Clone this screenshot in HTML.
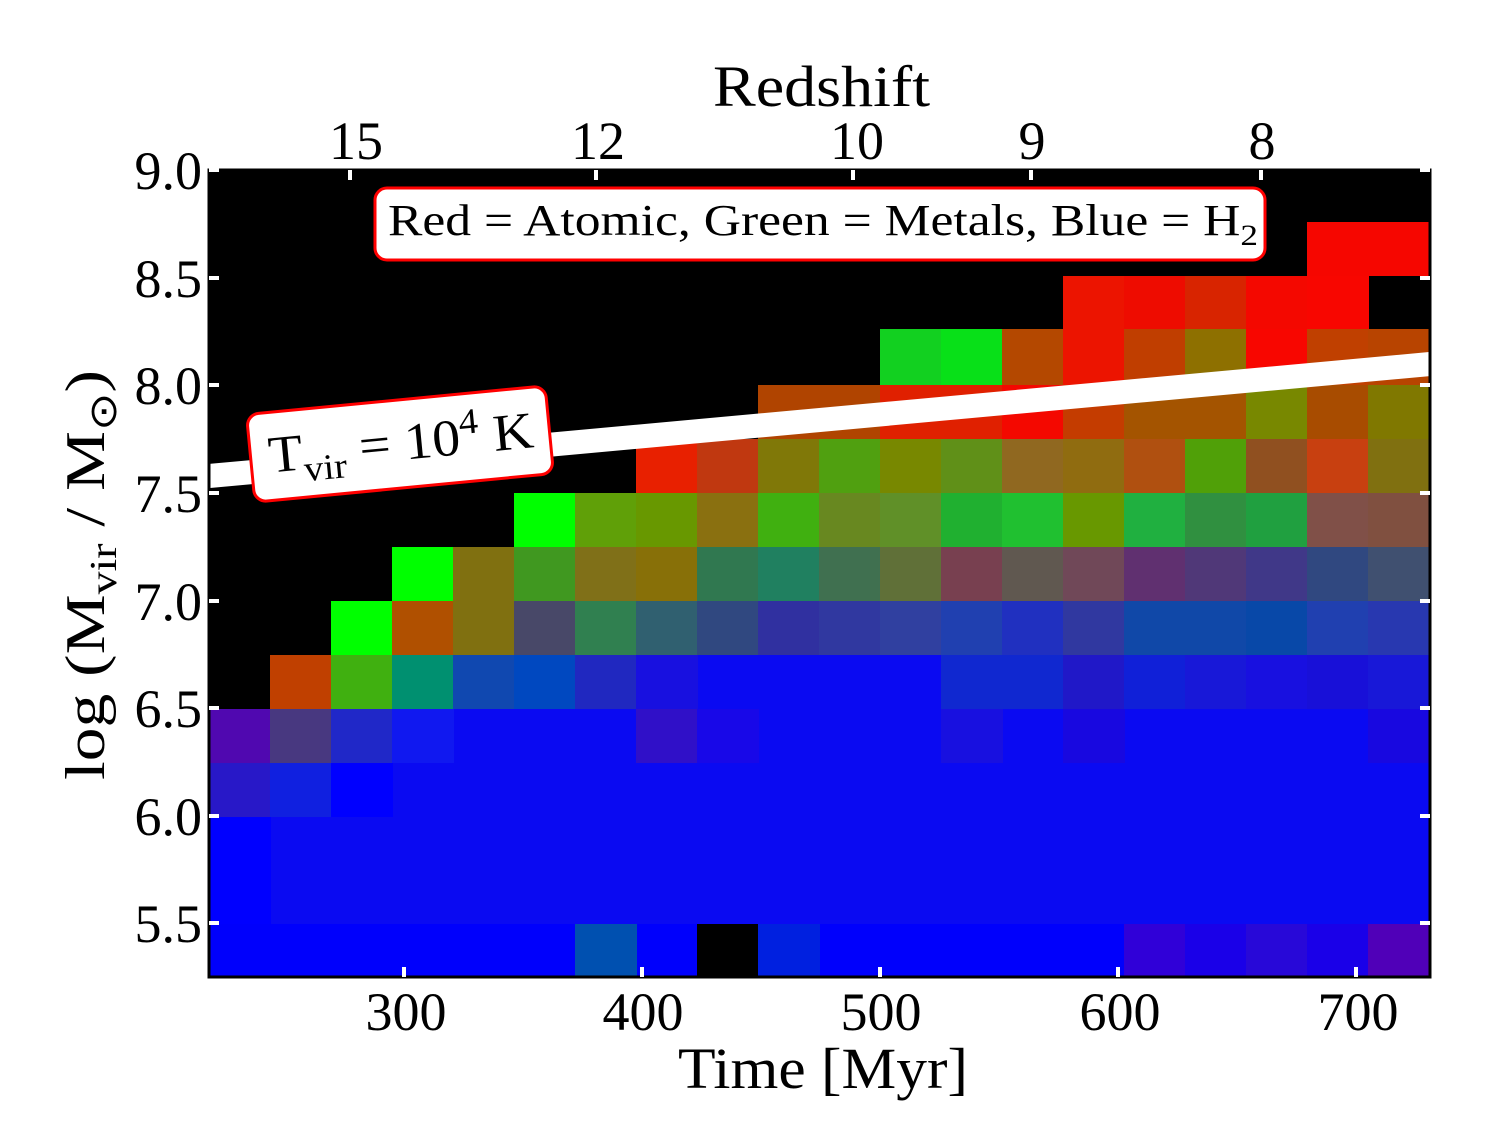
<!DOCTYPE html>
<html><head><meta charset="utf-8"><style>
body{margin:0;background:#fff}
svg{display:block}
text{font-family:"Liberation Serif",serif;fill:#000}
</style></head><body>
<svg width="1494" height="1140" viewBox="0 0 1494 1140" xmlns="http://www.w3.org/2000/svg">
<rect x="209" y="170" width="1221" height="807" fill="#000"/>
<rect x="209" y="655" width="1221" height="322" fill="#0a0af2"/>
<g shape-rendering="crispEdges">
<rect x="1307" y="222" width="123" height="54" fill="#f60600"/>
<rect x="1063" y="276" width="62" height="54" fill="#ec1400"/>
<rect x="1124" y="276" width="62" height="54" fill="#ee0c00"/>
<rect x="1185" y="276" width="62" height="54" fill="#d82400"/>
<rect x="1246" y="276" width="62" height="54" fill="#f40800"/>
<rect x="1307" y="276" width="62" height="54" fill="#f80600"/>
<rect x="880" y="329" width="62" height="56" fill="#12d020"/>
<rect x="941" y="329" width="62" height="56" fill="#08e018"/>
<rect x="1002" y="329" width="62" height="56" fill="#b44800"/>
<rect x="1063" y="329" width="62" height="56" fill="#ec1400"/>
<rect x="1124" y="329" width="62" height="56" fill="#c03e00"/>
<rect x="1185" y="329" width="62" height="56" fill="#8e7000"/>
<rect x="1246" y="329" width="62" height="56" fill="#f80600"/>
<rect x="1307" y="329" width="62" height="56" fill="#c04000"/>
<rect x="1368" y="329" width="62" height="56" fill="#b84400"/>
<rect x="758" y="385" width="62" height="54" fill="#b04400"/>
<rect x="819" y="385" width="62" height="54" fill="#b04400"/>
<rect x="880" y="385" width="62" height="54" fill="#e02000"/>
<rect x="941" y="385" width="62" height="54" fill="#e02000"/>
<rect x="1002" y="385" width="62" height="54" fill="#f40800"/>
<rect x="1063" y="385" width="62" height="54" fill="#c43c00"/>
<rect x="1124" y="385" width="62" height="54" fill="#a45400"/>
<rect x="1185" y="385" width="62" height="54" fill="#a45400"/>
<rect x="1246" y="385" width="62" height="54" fill="#788800"/>
<rect x="1307" y="385" width="62" height="54" fill="#a84c00"/>
<rect x="1368" y="385" width="62" height="54" fill="#807800"/>
<rect x="636" y="439" width="62" height="54" fill="#e82000"/>
<rect x="697" y="439" width="62" height="54" fill="#c03810"/>
<rect x="758" y="439" width="62" height="54" fill="#807808"/>
<rect x="819" y="439" width="62" height="54" fill="#50a010"/>
<rect x="880" y="439" width="62" height="54" fill="#788800"/>
<rect x="941" y="439" width="62" height="54" fill="#609018"/>
<rect x="1002" y="439" width="62" height="54" fill="#906820"/>
<rect x="1063" y="439" width="62" height="54" fill="#906c10"/>
<rect x="1124" y="439" width="62" height="54" fill="#b05010"/>
<rect x="1185" y="439" width="62" height="54" fill="#50a008"/>
<rect x="1246" y="439" width="62" height="54" fill="#905020"/>
<rect x="1307" y="439" width="62" height="54" fill="#c84010"/>
<rect x="1368" y="439" width="62" height="54" fill="#807010"/>
<rect x="514" y="493" width="62" height="54" fill="#00ff00"/>
<rect x="575" y="493" width="62" height="54" fill="#60a008"/>
<rect x="636" y="493" width="62" height="54" fill="#689800"/>
<rect x="697" y="493" width="62" height="54" fill="#8a7010"/>
<rect x="758" y="493" width="62" height="54" fill="#40b010"/>
<rect x="819" y="493" width="62" height="54" fill="#688820"/>
<rect x="880" y="493" width="62" height="54" fill="#609028"/>
<rect x="941" y="493" width="62" height="54" fill="#20b030"/>
<rect x="1002" y="493" width="62" height="54" fill="#20c030"/>
<rect x="1063" y="493" width="62" height="54" fill="#689800"/>
<rect x="1124" y="493" width="62" height="54" fill="#20b040"/>
<rect x="1185" y="493" width="62" height="54" fill="#309040"/>
<rect x="1246" y="493" width="62" height="54" fill="#20a040"/>
<rect x="1307" y="493" width="62" height="54" fill="#805048"/>
<rect x="1368" y="493" width="62" height="54" fill="#805040"/>
<rect x="392" y="547" width="62" height="54" fill="#00ff00"/>
<rect x="453" y="547" width="62" height="54" fill="#807010"/>
<rect x="514" y="547" width="62" height="54" fill="#409820"/>
<rect x="575" y="547" width="62" height="54" fill="#807018"/>
<rect x="636" y="547" width="62" height="54" fill="#887008"/>
<rect x="697" y="547" width="62" height="54" fill="#307850"/>
<rect x="758" y="547" width="62" height="54" fill="#208060"/>
<rect x="819" y="547" width="62" height="54" fill="#407050"/>
<rect x="880" y="547" width="62" height="54" fill="#607038"/>
<rect x="941" y="547" width="62" height="54" fill="#784050"/>
<rect x="1002" y="547" width="62" height="54" fill="#605850"/>
<rect x="1063" y="547" width="62" height="54" fill="#704858"/>
<rect x="1124" y="547" width="62" height="54" fill="#603070"/>
<rect x="1185" y="547" width="62" height="54" fill="#503878"/>
<rect x="1246" y="547" width="62" height="54" fill="#403888"/>
<rect x="1307" y="547" width="62" height="54" fill="#304880"/>
<rect x="1368" y="547" width="62" height="54" fill="#405070"/>
<rect x="331" y="601" width="62" height="54" fill="#00ff00"/>
<rect x="392" y="601" width="62" height="54" fill="#b05000"/>
<rect x="453" y="601" width="62" height="54" fill="#807010"/>
<rect x="514" y="601" width="62" height="54" fill="#484868"/>
<rect x="575" y="601" width="62" height="54" fill="#308050"/>
<rect x="636" y="601" width="62" height="54" fill="#306070"/>
<rect x="697" y="601" width="62" height="54" fill="#304880"/>
<rect x="758" y="601" width="62" height="54" fill="#3030a0"/>
<rect x="819" y="601" width="62" height="54" fill="#3038a0"/>
<rect x="880" y="601" width="62" height="54" fill="#3040a0"/>
<rect x="941" y="601" width="62" height="54" fill="#2040b0"/>
<rect x="1002" y="601" width="62" height="54" fill="#2030c0"/>
<rect x="1063" y="601" width="62" height="54" fill="#3038a0"/>
<rect x="1124" y="601" width="62" height="54" fill="#1048a8"/>
<rect x="1185" y="601" width="62" height="54" fill="#1048a8"/>
<rect x="1246" y="601" width="62" height="54" fill="#0848a8"/>
<rect x="1307" y="601" width="62" height="54" fill="#2040b0"/>
<rect x="1368" y="601" width="62" height="54" fill="#2838b0"/>
<rect x="209" y="655" width="62" height="54" fill="#000"/>
<rect x="270" y="655" width="62" height="54" fill="#c04000"/>
<rect x="331" y="655" width="62" height="54" fill="#40b010"/>
<rect x="392" y="655" width="62" height="54" fill="#009070"/>
<rect x="453" y="655" width="62" height="54" fill="#1048b0"/>
<rect x="514" y="655" width="62" height="54" fill="#0048c0"/>
<rect x="575" y="655" width="62" height="54" fill="#2028c0"/>
<rect x="636" y="655" width="62" height="54" fill="#1810e0"/>
<rect x="941" y="655" width="62" height="54" fill="#1028d0"/>
<rect x="1002" y="655" width="62" height="54" fill="#1028d0"/>
<rect x="1063" y="655" width="62" height="54" fill="#2018c8"/>
<rect x="1124" y="655" width="62" height="54" fill="#1020d8"/>
<rect x="1185" y="655" width="62" height="54" fill="#1818d8"/>
<rect x="1246" y="655" width="62" height="54" fill="#1810e0"/>
<rect x="1307" y="655" width="62" height="54" fill="#1810d8"/>
<rect x="1368" y="655" width="62" height="54" fill="#1818d8"/>
<rect x="209" y="709" width="62" height="54" fill="#5008b0"/>
<rect x="270" y="709" width="62" height="54" fill="#483880"/>
<rect x="331" y="709" width="62" height="54" fill="#2028c8"/>
<rect x="392" y="709" width="62" height="54" fill="#1018f0"/>
<rect x="636" y="709" width="62" height="54" fill="#3010c8"/>
<rect x="697" y="709" width="62" height="54" fill="#1808e8"/>
<rect x="941" y="709" width="62" height="54" fill="#1810e0"/>
<rect x="1063" y="709" width="62" height="54" fill="#1808e0"/>
<rect x="1368" y="709" width="62" height="54" fill="#1808e0"/>
<rect x="209" y="763" width="62" height="54" fill="#2818c8"/>
<rect x="270" y="763" width="62" height="54" fill="#1020e0"/>
<rect x="331" y="763" width="62" height="54" fill="#0000ff"/>
<rect x="209" y="817" width="62" height="107" fill="#0000ff"/>
<rect x="209" y="924" width="1221" height="53" fill="#0000fc"/>
<rect x="575" y="924" width="62" height="53" fill="#0050b0"/>
<rect x="697" y="924" width="62" height="53" fill="#000"/>
<rect x="758" y="924" width="62" height="53" fill="#0020e0"/>
<rect x="1124" y="924" width="62" height="53" fill="#3000d8"/>
<rect x="1185" y="924" width="62" height="53" fill="#1a00e8"/>
<rect x="1246" y="924" width="62" height="53" fill="#2808d8"/>
<rect x="1307" y="924" width="62" height="53" fill="#1a00e8"/>
<rect x="1368" y="924" width="62" height="53" fill="#5000b8"/>
</g>
<line x1="209" y1="476" x2="1430" y2="364" stroke="#fff" stroke-width="24"/>
<rect x="209" y="170" width="1221" height="807" fill="none" stroke="#000" stroke-width="3"/>
<g stroke="#fff" stroke-width="4">
<line x1="209" y1="170" x2="219" y2="170"/><line x1="1420" y1="170" x2="1430" y2="170"/>
<line x1="209" y1="278" x2="219" y2="278"/><line x1="1420" y1="278" x2="1430" y2="278"/>
<line x1="209" y1="385" x2="219" y2="385"/><line x1="1420" y1="385" x2="1430" y2="385"/>
<line x1="209" y1="493" x2="219" y2="493"/><line x1="1420" y1="493" x2="1430" y2="493"/>
<line x1="209" y1="601" x2="219" y2="601"/><line x1="1420" y1="601" x2="1430" y2="601"/>
<line x1="209" y1="708" x2="219" y2="708"/><line x1="1420" y1="708" x2="1430" y2="708"/>
<line x1="209" y1="816" x2="219" y2="816"/><line x1="1420" y1="816" x2="1430" y2="816"/>
<line x1="209" y1="923" x2="219" y2="923"/><line x1="1420" y1="923" x2="1430" y2="923"/>
<line x1="404" y1="977" x2="404" y2="967"/><line x1="642" y1="977" x2="642" y2="967"/>
<line x1="880" y1="977" x2="880" y2="967"/><line x1="1118" y1="977" x2="1118" y2="967"/>
<line x1="1356" y1="977" x2="1356" y2="967"/>
<line x1="350" y1="170" x2="350" y2="180"/><line x1="596" y1="170" x2="596" y2="180"/>
<line x1="853" y1="170" x2="853" y2="180"/><line x1="1031" y1="170" x2="1031" y2="180"/>
<line x1="1261" y1="170" x2="1261" y2="180"/>
</g>
<g font-size="54" text-anchor="end">
<text x="202" y="189">9.0</text><text x="202" y="297">8.5</text>
<text x="202" y="404">8.0</text><text x="202" y="512">7.5</text>
<text x="202" y="620">7.0</text><text x="202" y="727">6.5</text>
<text x="202" y="835">6.0</text><text x="202" y="942">5.5</text>
</g>
<g font-size="54" text-anchor="middle">
<text x="406" y="1030">300</text><text x="643" y="1030">400</text>
<text x="881" y="1030">500</text><text x="1120" y="1030">600</text>
<text x="1358" y="1030">700</text>
<text x="356" y="159">15</text><text x="598" y="159">12</text>
<text x="857" y="159">10</text><text x="1032" y="159">9</text>
<text x="1262" y="159">8</text>
</g>
<text x="678" y="1088" font-size="58" textLength="290" lengthAdjust="spacingAndGlyphs">Time [Myr]</text>
<text x="713" y="106" font-size="58" textLength="217" lengthAdjust="spacingAndGlyphs">Redshift</text>
<text transform="translate(104,780) rotate(-90)" font-size="56" textLength="410" lengthAdjust="spacingAndGlyphs">log (M<tspan font-size="38" dy="12">vir</tspan><tspan dy="-12"> / M</tspan><tspan font-size="38" dy="12">⊙</tspan><tspan dy="-12">)</tspan></text>
<rect x="375" y="188" width="890" height="72" rx="12" fill="#fff" stroke="#f00" stroke-width="3"/>
<text x="388" y="235" font-size="44" textLength="870" lengthAdjust="spacingAndGlyphs">Red = Atomic, Green = Metals, Blue = H<tspan font-size="30" dy="10">2</tspan></text>
<g transform="translate(400,444) rotate(-5.5)">
<rect x="-150" y="-44" width="300" height="88" rx="12" fill="#fff" stroke="#f00" stroke-width="3"/>
<text x="-132" y="16" font-size="52" textLength="266" lengthAdjust="spacingAndGlyphs">T<tspan font-size="36" dy="12">vir</tspan><tspan dy="-12"> = 10</tspan><tspan font-size="36" dy="-20">4</tspan><tspan dy="20"> K</tspan></text>
</g>
</svg>
</body></html>
